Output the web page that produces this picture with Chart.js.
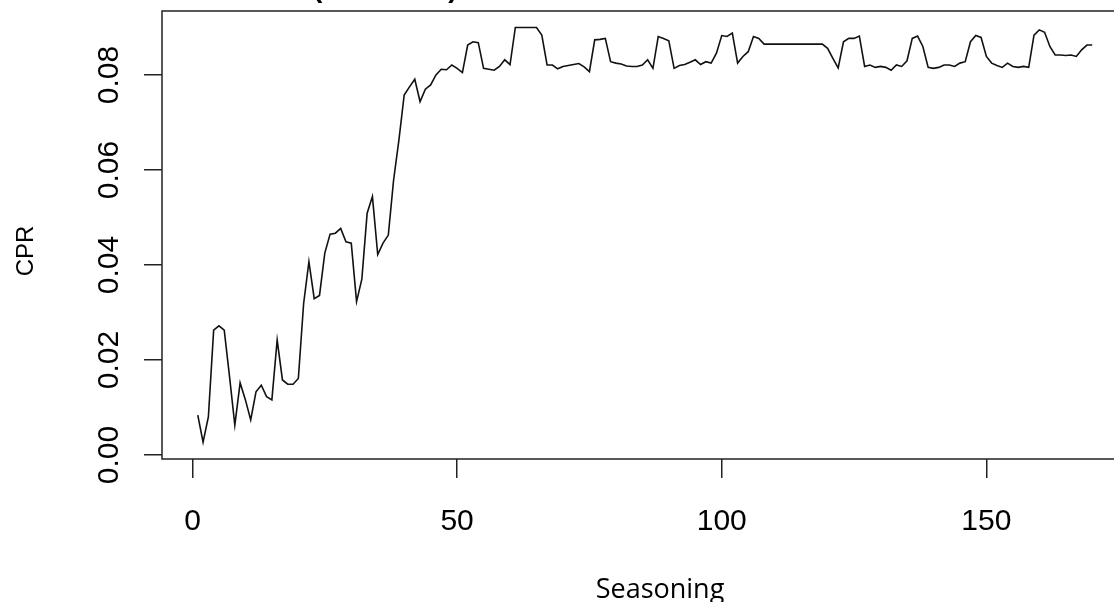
<!DOCTYPE html>
<html>
<head>
<meta charset="utf-8">
<title>CPR by Seasoning</title>
<script src="https://cdn.jsdelivr.net/npm/chart.js@4.4.1/dist/chart.umd.min.js"></script>
<style>
    html, body { margin: 0; padding: 0; background: #fff; overflow: hidden; }
    #wrap { width: 1150px; height: 602px; }
</style>
</head>
<body>
<div id="wrap"><canvas id="cprChart" width="1150" height="602"></canvas></div>
<script>
// monthly CPR by loan age (seasoning, months 1..170)
const cpr = [
    0.0084, 0.0027, 0.0080, 0.0263, 0.0272, 0.0263, 0.0165, 0.0063, 0.0152, 0.0116,
    0.0074, 0.0133, 0.0147, 0.0123, 0.0116, 0.0242, 0.0158, 0.0149, 0.0149, 0.0161,
    0.0319, 0.0407, 0.0329, 0.0336, 0.0425, 0.0465, 0.0467, 0.0477, 0.0449, 0.0446,
    0.0323, 0.0370, 0.0509, 0.0544, 0.0422, 0.0446, 0.0463, 0.0579, 0.0663, 0.0758,
    0.0775, 0.0791, 0.0744, 0.0770, 0.0779, 0.0800, 0.0812, 0.0811, 0.0821, 0.0814,
    0.0805, 0.0863, 0.0870, 0.0868, 0.0814, 0.0812, 0.0810, 0.0818, 0.0832, 0.0822,
    0.0900, 0.0900, 0.0900, 0.0900, 0.0900, 0.0884, 0.0821, 0.0821, 0.0813, 0.0818,
    0.0820, 0.0822, 0.0824, 0.0817, 0.0807, 0.0874, 0.0875, 0.0877, 0.0828, 0.0825,
    0.0823, 0.0819, 0.0818, 0.0818, 0.0821, 0.0832, 0.0814, 0.0881, 0.0877, 0.0872,
    0.0814, 0.0820, 0.0822, 0.0827, 0.0832, 0.0822, 0.0828, 0.0825, 0.0846, 0.0883,
    0.0881, 0.0888, 0.0825, 0.0839, 0.0849, 0.0881, 0.0877, 0.0865, 0.0865, 0.0865,
    0.0865, 0.0865, 0.0865, 0.0865, 0.0865, 0.0865, 0.0865, 0.0865, 0.0865, 0.0856,
    0.0835, 0.0815, 0.0870, 0.0877, 0.0877, 0.0882, 0.0818, 0.0821, 0.0816, 0.0818,
    0.0816, 0.0810, 0.0821, 0.0818, 0.0830, 0.0877, 0.0882, 0.0860, 0.0816, 0.0814,
    0.0816, 0.0821, 0.0821, 0.0818, 0.0825, 0.0828, 0.0870, 0.0883, 0.0879, 0.0839,
    0.0825, 0.0820, 0.0816, 0.0825, 0.0818, 0.0816, 0.0818, 0.0816, 0.0884, 0.0895,
    0.0890, 0.0860, 0.0842, 0.0842, 0.0841, 0.0842, 0.0839, 0.0853, 0.0863, 0.0863
];
const seasoning = cpr.map((_, i) => i + 1);

const xTicks = [0, 50, 100, 150];
const yTicks = [0, 0.02, 0.04, 0.06, 0.08];

const xLabel = 'Seasoning';
const yLabel = 'CPR';
const mainTitle = 'CPR (All Loans)';

const tickFont = '"Liberation Sans", Arial, sans-serif';
const ink = '#222';

// R-style frame, rotated y tick labels and axis titles
const baseGraphics = {
    id: 'baseGraphics',
    afterDraw(chart) {
        const { ctx, chartArea: a, scales } = chart;
        ctx.save();

        ctx.strokeStyle = ink;
        ctx.lineWidth = 1.5;
        ctx.strokeRect(a.left, a.top, a.right - a.left, a.bottom - a.top);

        ctx.fillStyle = '#000';
        ctx.font = '30px ' + tickFont;
        ctx.textAlign = 'center';
        ctx.textBaseline = 'alphabetic';
        yTicks.forEach(v => {
            const y = scales.y.getPixelForValue(v);
            ctx.save();
            ctx.translate(118, y);
            ctx.rotate(-Math.PI / 2);
            ctx.fillText(v.toFixed(2), 0, 0);
            ctx.restore();
        });

        ctx.font = '24px ' + tickFont;
        ctx.save();
        ctx.translate(33, 251);
        ctx.rotate(-Math.PI / 2);
        ctx.fillText(yLabel, 0, 0);
        ctx.restore();

        ctx.font = '27px "Open Sans", sans-serif';
        ctx.fillText(xLabel, 660, 598);

        // main title sits above the top edge
        ctx.font = 'bold 28px ' + tickFont;
        ctx.textAlign = 'left';
        const lead = ctx.measureText('CPR ').width;
        ctx.fillText(mainTitle, 313 - lead, -3);

        ctx.restore();
    }
};

const ctx = document.getElementById('cprChart').getContext('2d');

new Chart(ctx, {
    type: 'line',
    data: {
        datasets: [{
            data: seasoning.map((s, i) => ({ x: s, y: cpr[i] })),
            borderColor: '#111',
            borderWidth: 1.6,
            pointRadius: 0,
            tension: 0,
            fill: false
        }]
    },
    options: {
        responsive: false,
        animation: false,
        events: [],
        layout: { padding: { top: 11, right: 22, left: 0, bottom: 0 } },
        plugins: {
            legend: { display: false },
            tooltip: { enabled: false }
        },
        scales: {
            x: {
                type: 'linear',
                min: -5.76,
                max: 176.76,
                afterBuildTicks: scale => { scale.ticks = xTicks.map(v => ({ value: v })); },
                afterFit: scale => { scale.height = 143; },
                border: { display: false },
                grid: {
                    drawOnChartArea: false,
                    drawTicks: true,
                    tickLength: 19,
                    color: ink,
                    lineWidth: 1.5
                },
                ticks: {
                    color: '#000',
                    padding: 26,
                    maxRotation: 0,
                    font: { family: tickFont, size: 30 },
                    callback: v => String(v)
                }
            },
            y: {
                type: 'linear',
                min: -0.00084,
                max: 0.09347,
                afterBuildTicks: scale => { scale.ticks = yTicks.map(v => ({ value: v })); },
                afterFit: scale => { scale.width = 162; },
                border: { display: false },
                grid: {
                    drawOnChartArea: false,
                    drawTicks: true,
                    tickLength: 18,
                    color: ink,
                    lineWidth: 1.5
                },
                ticks: { display: false }
            }
        }
    },
    plugins: [baseGraphics]
});
</script>
</body>
</html>
